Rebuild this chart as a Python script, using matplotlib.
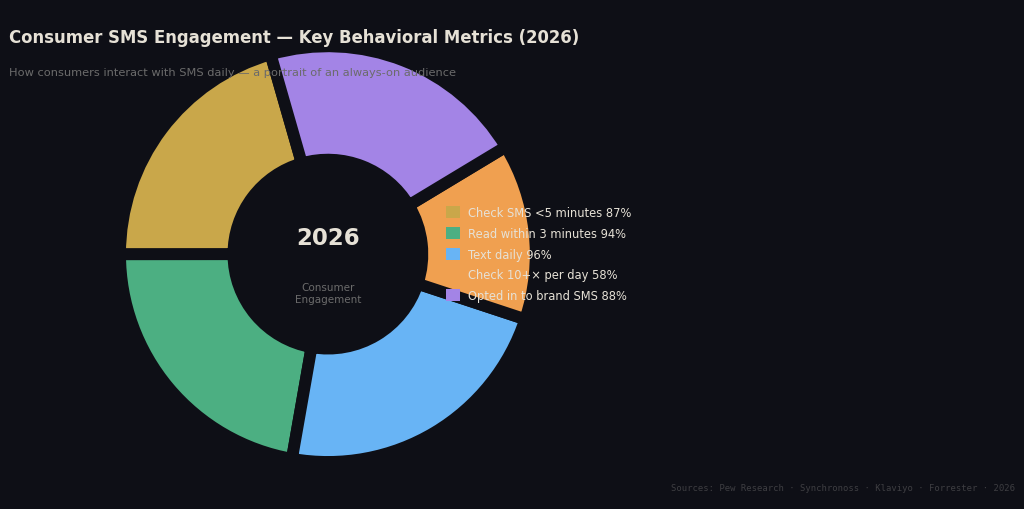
import matplotlib.pyplot as plt

# Dados
metricas = [
    "Check SMS <5 minutes",
    "Read within 3 minutes",
    "Text daily",
    "Check 10+× per day",
    "Opted in to brand SMS",
]
valores = [87, 94, 96, 58, 88]
cores = ["#c9a74a", "#4caf82", "#68b4f5", "#f0a050", "#a384e6"]

FUNDO = "#0e0f16"
TEXTO = "#e6e1d6"
CINZA = "#6b6b6b"

fig = plt.figure(figsize=(10.24, 5.10), dpi=100, facecolor=FUNDO)

ax = fig.add_axes([0.1152, 0.088, 0.41, 0.8235])
ax.set_facecolor(FUNDO)
wedges, _ = ax.pie(
    valores,
    colors=cores,
    startangle=106,
    counterclock=True,
    radius=0.99,
    wedgeprops=dict(width=0.54, edgecolor=FUNDO, linewidth=8.5),
)
ax.set_xlim(-1, 1)
ax.set_ylim(-1, 1)
ax.set_aspect("equal")
ax.axis("off")

ax.text(0, 0.08, "2026", ha="center", va="center", fontsize=16.5,
        fontweight="bold", color=TEXTO)
ax.text(0, -0.185, "Consumer\nEngagement", ha="center", va="center",
        fontsize=7.5, color=CINZA, linespacing=1.2)

rotulos = [f"{m} {v}%" for m, v in zip(metricas, valores)]
leg = fig.legend(
    wedges, rotulos,
    loc="center left", bbox_to_anchor=(0.425, 0.5),
    frameon=False, fontsize=8.3, labelcolor=TEXTO,
    handlelength=1.25, handleheight=1.25, handletextpad=0.7,
    labelspacing=0.68,
)
for h in leg.legend_handles:
    h.set_edgecolor("none")

fig.text(0.009, 0.925, "Consumer SMS Engagement — Key Behavioral Metrics (2026)",
         fontsize=11.9, fontweight="bold", color=TEXTO, ha="left", va="center")
fig.text(0.009, 0.857, "How consumers interact with SMS daily — a portrait of an always-on audience",
         fontsize=8.2, color=CINZA, ha="left", va="center")
fig.text(0.991, 0.043, "Sources: Pew Research · Synchronoss · Klaviyo · Forrester · 2026",
         fontsize=6.4, family="DejaVu Sans Mono", color="#3e3e42", ha="right", va="center")

plt.savefig("out.png", dpi=100, facecolor=FUNDO)
